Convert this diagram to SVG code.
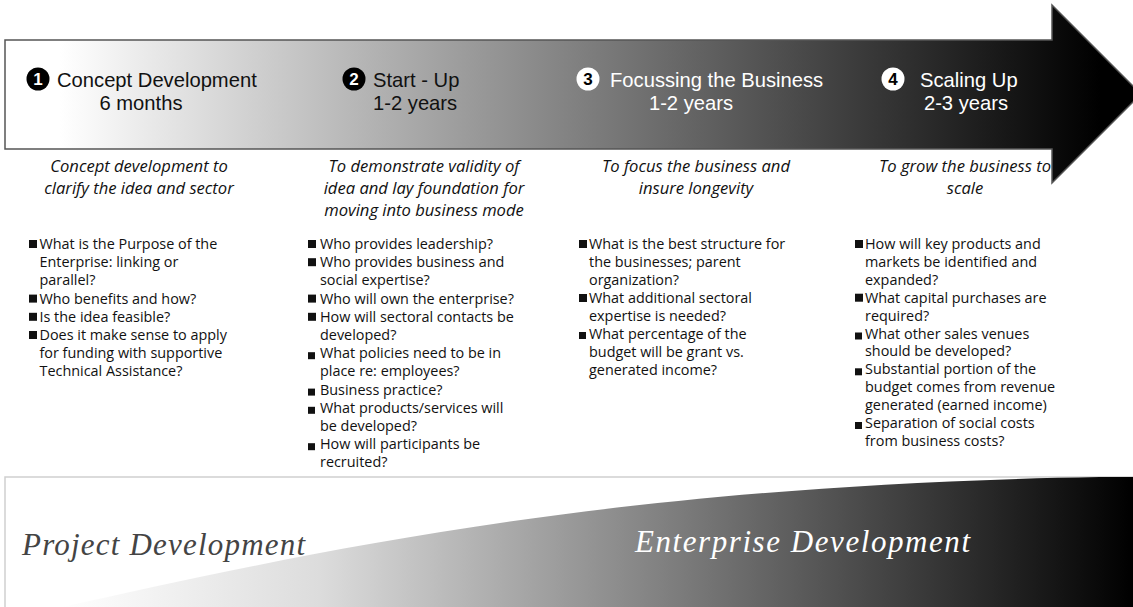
<svg xmlns="http://www.w3.org/2000/svg" width="1133" height="607" viewBox="0 0 1133 607">
  <style>
    .hd { font-family: "Liberation Sans", Arial, sans-serif; font-size: 20.2px; }
    .hd-dark { fill: #111; }
    .hd-light { fill: #fff; }
    .num { font-family: "Liberation Sans", Arial, sans-serif; font-weight: bold; font-size: 17px; text-anchor: middle; }
    .sub { font-family: "Open Sans", "Liberation Sans", sans-serif; font-style: italic; font-size: 16.6px; text-anchor: middle; fill: #111; }
    .body { font-family: "Open Sans", "Liberation Sans", sans-serif; font-size: 14.4px; fill: #111; }
    .blt { fill: #111; }
    .band { font-family: "Liberation Serif", serif; font-style: italic; font-size: 31px; }
  </style>
  <defs>
    <linearGradient id="arrowFill" gradientUnits="userSpaceOnUse" x1="60" y1="0" x2="1100" y2="0">
      <stop offset="0" stop-color="#ffffff"/>
      <stop offset="1" stop-color="#000000"/>
    </linearGradient>
    <linearGradient id="bandFill" gradientUnits="userSpaceOnUse" x1="60" y1="0" x2="1133" y2="0">
      <stop offset="0" stop-color="#ffffff"/>
      <stop offset="0.242" stop-color="#dcdcdc"/>
      <stop offset="0.522" stop-color="#8c8c8c"/>
      <stop offset="0.857" stop-color="#2a2a2a"/>
      <stop offset="1" stop-color="#000000"/>
    </linearGradient>
  </defs>

  <rect width="1133" height="607" fill="#fff"/>

  <!-- phase details under the arrow -->
  <g id="phase-1-detail">
    <text class="sub" x="139" y="172">Concept development to</text>
    <text class="sub" x="139" y="194">clarify the idea and sector</text>
    <rect class="blt" x="29" y="240" width="8" height="8"/>
    <rect class="blt" x="29" y="294.6" width="8" height="8"/>
    <rect class="blt" x="29" y="312.8" width="8" height="8"/>
    <rect class="blt" x="29" y="331" width="8" height="8"/>
    <text class="body">
      <tspan x="39.5" y="249">What is the Purpose of the</tspan>
      <tspan x="39.5" y="267.2">Enterprise: linking or</tspan>
      <tspan x="39.5" y="285.4">parallel?</tspan>
      <tspan x="39.5" y="303.6">Who benefits and how?</tspan>
      <tspan x="39.5" y="321.8">Is the idea feasible?</tspan>
      <tspan x="39.5" y="340">Does it make sense to apply</tspan>
      <tspan x="39.5" y="358.2">for funding with supportive</tspan>
      <tspan x="39.5" y="376.4">Technical Assistance?</tspan>
    </text>
  </g>

  <g id="phase-2-detail">
    <text class="sub" x="424" y="172">To demonstrate validity of</text>
    <text class="sub" x="424" y="194">idea and lay foundation for</text>
    <text class="sub" x="424" y="216">moving into business mode</text>
    <rect class="blt" x="308" y="240" width="8" height="8"/>
    <rect class="blt" x="308" y="258.2" width="8" height="8"/>
    <rect class="blt" x="308" y="294.6" width="8" height="8"/>
    <rect class="blt" x="308" y="312.8" width="8" height="8"/>
    <rect class="blt" x="308" y="352.2" width="7" height="7"/>
    <rect class="blt" x="308" y="388.6" width="7" height="7"/>
    <rect class="blt" x="308" y="406.8" width="7" height="7"/>
    <rect class="blt" x="308" y="443.2" width="7" height="7"/>
    <text class="body">
      <tspan x="320" y="249">Who provides leadership?</tspan>
      <tspan x="320" y="267.2">Who provides business and</tspan>
      <tspan x="320" y="285.4">social expertise?</tspan>
      <tspan x="320" y="303.6">Who will own the enterprise?</tspan>
      <tspan x="320" y="321.8">How will sectoral contacts be</tspan>
      <tspan x="320" y="340">developed?</tspan>
      <tspan x="320" y="358.2">What policies need to be in</tspan>
      <tspan x="320" y="376.4">place re: employees?</tspan>
      <tspan x="320" y="394.6">Business practice?</tspan>
      <tspan x="320" y="412.8">What products/services will</tspan>
      <tspan x="320" y="431">be developed?</tspan>
      <tspan x="320" y="449.2">How will participants be</tspan>
      <tspan x="320" y="467.4">recruited?</tspan>
    </text>
  </g>

  <g id="phase-3-detail">
    <text class="sub" x="696" y="172">To focus the business and</text>
    <text class="sub" x="696" y="194">insure longevity</text>
    <rect class="blt" x="579" y="240" width="8" height="8"/>
    <rect class="blt" x="579" y="294" width="8" height="8"/>
    <rect class="blt" x="579" y="332" width="7" height="7"/>
    <text class="body">
      <tspan x="589" y="249">What is the best structure for</tspan>
      <tspan x="589" y="267">the businesses; parent</tspan>
      <tspan x="589" y="285">organization?</tspan>
      <tspan x="589" y="303">What additional sectoral</tspan>
      <tspan x="589" y="321">expertise is needed?</tspan>
      <tspan x="589" y="339">What percentage of the</tspan>
      <tspan x="589" y="357">budget will be grant vs.</tspan>
      <tspan x="589" y="375">generated income?</tspan>
    </text>
  </g>

  <g id="phase-4-detail">
    <text class="sub" x="965" y="172">To grow the business to</text>
    <text class="sub" x="965" y="194">scale</text>
    <rect class="blt" x="855" y="240" width="8" height="8"/>
    <rect class="blt" x="855" y="293.7" width="8" height="8"/>
    <rect class="blt" x="855" y="332.5" width="7" height="7"/>
    <rect class="blt" x="855" y="368.3" width="7" height="7"/>
    <rect class="blt" x="855" y="422" width="7" height="7"/>
    <text class="body">
      <tspan x="865" y="249">How will key products and</tspan>
      <tspan x="865" y="266.9">markets be identified and</tspan>
      <tspan x="865" y="284.8">expanded?</tspan>
      <tspan x="865" y="302.7">What capital purchases are</tspan>
      <tspan x="865" y="320.6">required?</tspan>
      <tspan x="865" y="338.5">What other sales venues</tspan>
      <tspan x="865" y="356.4">should be developed?</tspan>
      <tspan x="865" y="374.3">Substantial portion of the</tspan>
      <tspan x="865" y="392.2">budget comes from revenue</tspan>
      <tspan x="865" y="410.1">generated (earned income)</tspan>
      <tspan x="865" y="428">Separation of social costs</tspan>
      <tspan x="865" y="445.9">from business costs?</tspan>
    </text>
  </g>

  <!-- the timeline arrow -->
  <g id="timeline-arrow">
    <path d="M5,40 L1052,40 L1052,5 L1141,94 L1052,183 L1052,149 L5,149 Z"
          fill="url(#arrowFill)" stroke="#555" stroke-width="1.5"/>
  </g>

  <!-- phase headings on the arrow -->
  <g id="phase-1">
    <circle cx="38" cy="79" r="11.5" fill="#000"/>
    <text class="num" x="38" y="85.2" fill="#fff">1</text>
    <text class="hd hd-dark" x="57" y="87">Concept Development</text>
    <text class="hd hd-dark" x="141" y="110" text-anchor="middle">6 months</text>
  </g>
  <g id="phase-2">
    <circle cx="354" cy="79" r="11.5" fill="#000"/>
    <text class="num" x="354" y="85.2" fill="#fff">2</text>
    <text class="hd hd-dark" x="373" y="87">Start - Up</text>
    <text class="hd hd-dark" x="373" y="110">1-2 years</text>
  </g>
  <g id="phase-3">
    <circle cx="588" cy="79" r="11.5" fill="#fff"/>
    <text class="num" x="588" y="85.2" fill="#000">3</text>
    <text class="hd hd-light" x="610" y="87">Focussing the Business</text>
    <text class="hd hd-light" x="691" y="110" text-anchor="middle">1-2 years</text>
  </g>
  <g id="phase-4">
    <circle cx="893" cy="79" r="11.5" fill="#fff"/>
    <text class="num" x="893" y="85.2" fill="#000">4</text>
    <text class="hd hd-light" x="920" y="87">Scaling Up</text>
    <text class="hd hd-light" x="966" y="110" text-anchor="middle">2-3 years</text>
  </g>

  <!-- development band along the bottom -->
  <g id="development-band">
    <path d="M5,607 L5,477 L1133,477" fill="none" stroke="#d0d0d0" stroke-width="1.5"/>
    <path d="M62,607 C300,555 600,485 1100,477 L1133,477 L1133,607 Z" fill="url(#bandFill)"/>
  </g>
  <g id="project-development">
    <text class="band" x="22" y="555" fill="#444" textLength="283" lengthAdjust="spacing">Project Development</text>
  </g>
  <g id="enterprise-development">
    <text class="band" x="635" y="552" fill="#fff" textLength="335" lengthAdjust="spacing">Enterprise Development</text>
  </g>
</svg>
